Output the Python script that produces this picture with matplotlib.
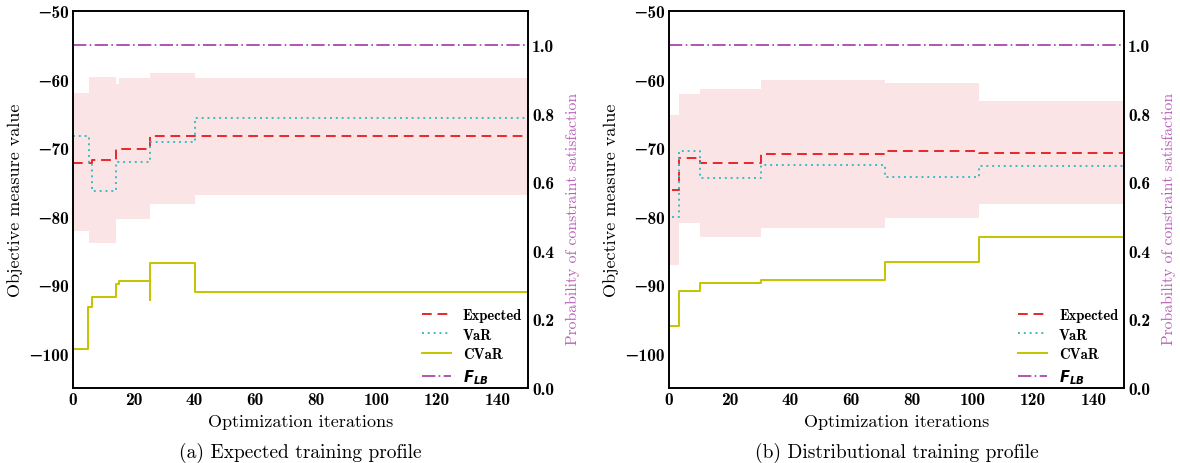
import matplotlib
matplotlib.use("Agg")
import matplotlib.pyplot as plt
from matplotlib.ticker import FuncFormatter

# bold CM for ticks and legend, regular CM set explicitly for labels
plt.rcParams["mathtext.fontset"] = "cm"
plt.rcParams["font.family"] = ["cmb10", "DejaVu Serif"]
LABEL_FONT = ["cmr10", "DejaVu Serif"]

# Panel (a): expected training profile
a_exp_x = [0, 6.3, 14.2, 25.4, 40.2, 150]
a_exp_y = [-72.1, -71.7, -70.1, -68.3, -68.2, -68.2]
a_var_x = [0, 5.2, 6.3, 14.2, 25.4, 40.2, 150]
a_var_y = [-68.3, -72.0, -76.2, -72.0, -69.1, -65.6, -65.6]
a_cvar_x = [0, 5.0, 6.3, 14.2, 15.2, 25.4, 25.4, 40.2, 150]
a_cvar_y = [-99.3, -93.25, -91.75, -89.85, -89.4, -92.1, -86.7, -91.0, -91.0]
a_band_x = [0, 5.2, 14.2, 15.2, 25.4, 40.2, 150]
a_band_hi = [-62.0, -59.6, -60.6, -59.8, -59.0, -59.7, -59.7]
a_band_lo = [-82.1, -83.9, -80.4, -80.4, -78.1, -76.9, -76.9]

# Panel (b): distributional training profile
b_exp_x = [1, 3.2, 10.2, 30.3, 71.2, 102.3, 150]
b_exp_y = [-76.1, -71.5, -72.2, -70.9, -70.35, -70.65, -70.65]
b_var_x = [1, 3.2, 10.2, 30.3, 71.2, 102.3, 150]
b_var_y = [-80.1, -70.4, -74.3, -72.45, -74.15, -72.55, -72.55]
b_cvar_x = [0, 3.2, 10.2, 30.3, 71.2, 102.3, 150]
b_cvar_y = [-96.0, -90.85, -89.7, -89.25, -86.6, -82.95, -82.95]
b_band_x = [0, 3.2, 10.2, 30.3, 71.2, 102.3, 150]
b_band_hi = [-65.1, -62.05, -61.4, -60.05, -60.55, -63.1, -63.1]
b_band_lo = [-87.1, -80.95, -82.9, -81.7, -80.2, -78.1, -78.1]

f_lb = 1.0
captions = ["(a) Expected training profile", "(b) Distributional training profile"]

c_exp = "#e8252c"
c_var = "#3bbcc4"
c_cvar = "#c4c400"
c_flb = "#a23aa6"
c_band = "#fae4e5"
c_rlabel = "#b862b8"


def tick_fmt(fmt):
    return FuncFormatter(lambda v, pos: (fmt % v).replace("-", "\u2212"))


def panel(fig, rect, ex, ey, vx, vy, cx, cy, bx, bhi, blo, caption):
    ax = fig.add_axes(rect)
    ax.fill_between(bx, bhi, blo, step="post", color=c_band, lw=0)
    ax.step(ex, ey, where="post", color=c_exp, ls=(0, (5, 3)), lw=1.4,
            label="Expected")
    ax.step(vx, vy, where="post", color=c_var, ls=(0, (1, 2)), lw=1.4,
            label="VaR")
    ax.step(cx, cy, where="post", color=c_cvar, lw=1.4, label="CVaR")
    ax.set_xlim(0, 150)
    ax.set_ylim(-105, -50)
    ax.set_yticks([-100, -90, -80, -70, -60, -50])
    ax.set_xticks([0, 20, 40, 60, 80, 100, 120, 140])
    ax.yaxis.set_major_formatter(tick_fmt("%d"))
    ax.xaxis.set_major_formatter(tick_fmt("%d"))
    ax.tick_params(length=0, pad=3, labelsize=12.5)
    ax.set_xlabel("Optimization iterations", fontsize=13, labelpad=5,
                  family=LABEL_FONT)
    ax.set_ylabel("Objective measure value", fontsize=13, labelpad=4,
                  family=LABEL_FONT)

    tw = ax.twinx()
    tw.axhline(f_lb, color=c_flb, ls=(0, (8, 2, 1, 2)), lw=1.2,
               label=r"$\mathbfit{F}_{\mathbfit{LB}}$")
    tw.set_ylim(0, 1.1)
    tw.set_yticks([0, 0.2, 0.4, 0.6, 0.8, 1.0])
    tw.yaxis.set_major_formatter(tick_fmt("%.1f"))
    tw.tick_params(length=0, pad=3, labelsize=12.5)
    tw.set_ylabel("Probability of constraint satisfaction", fontsize=11.3,
                  color=c_rlabel, family=LABEL_FONT)
    tw.yaxis.set_label_coords(1.083, 0.45)
    for s in list(ax.spines.values()) + list(tw.spines.values()):
        s.set_linewidth(1.2)

    h1, l1 = ax.get_legend_handles_labels()
    h2, l2 = tw.get_legend_handles_labels()
    leg = tw.legend(h1 + h2, l1 + l2, loc="lower right", frameon=False,
                    prop={"size": 10.5}, handlelength=2.0,
                    labelspacing=0.4, borderaxespad=0.0,
                    bbox_to_anchor=(1.0, -0.01))
    leg.get_texts()[-1].set_math_fontfamily("dejavusans")

    cx0 = rect[0] + rect[2] / 2
    fig.text(cx0, 0.002, caption, ha="center", va="bottom", fontsize=14,
             family=LABEL_FONT)
    return ax


fig = plt.figure(figsize=(11.8, 4.64), dpi=100)
panel(fig, [0.0619, 0.1616, 0.3856, 0.8124],
      a_exp_x, a_exp_y, a_var_x, a_var_y, a_cvar_x, a_cvar_y,
      a_band_x, a_band_hi, a_band_lo, captions[0])
panel(fig, [0.567, 0.1616, 0.3856, 0.8124],
      b_exp_x, b_exp_y, b_var_x, b_var_y, b_cvar_x, b_cvar_y,
      b_band_x, b_band_hi, b_band_lo, captions[1])

fig.savefig("out.png", dpi=100)
